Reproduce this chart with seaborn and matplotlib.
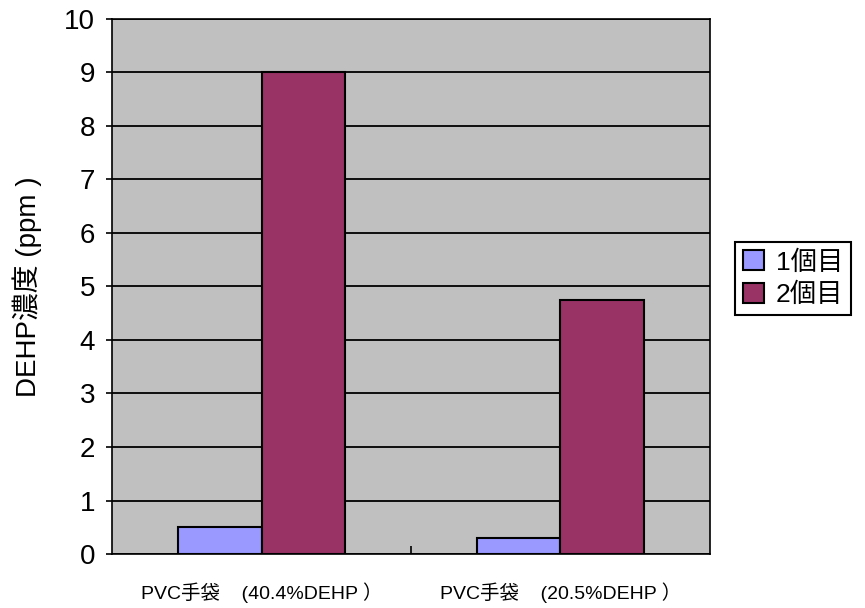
import matplotlib
matplotlib.use("Agg")
import matplotlib.pyplot as plt
import pandas as pd
import seaborn as sns
from matplotlib.ticker import FixedLocator

# data
categories = ["PVC手袋    (40.4%DEHP ）", "PVC手袋    (20.5%DEHP ）"]
series_names = ["1個目", "2個目"]
values_1 = [0.5, 0.3]
values_2 = [9.0, 4.75]
y_ticks = list(range(0, 11))

df = pd.DataFrame({
    "category": categories * 2,
    "series": [series_names[0]] * 2 + [series_names[1]] * 2,
    "value": values_1 + values_2,
})

sns.set_style("white")
plt.rcParams["font.family"] = ["Liberation Sans", "Noto Sans CJK JP", "DejaVu Sans"]
plt.rcParams["text.color"] = "black"
plt.rcParams["axes.labelcolor"] = "black"
plt.rcParams["xtick.color"] = "black"
plt.rcParams["ytick.color"] = "black"

fig = plt.figure(figsize=(8.65, 6.08), dpi=100)
ax = fig.add_axes([0.1295, 0.0888, 0.6913, 0.88])
ax.set_facecolor("#C0C0C0")

sns.barplot(data=df, x="category", y="value", hue="series",
            palette=["#9999FF", "#993366"], width=0.56,
            edgecolor="black", linewidth=1.5, saturation=1,
            ax=ax, zorder=3)

ax.set_ylim(0, 10)
ax.set_xlim(-0.5, 1.5)
ax.set_yticks(y_ticks)
ax.tick_params(axis="y", left=True, labelsize=20, length=4, width=1.2,
               direction="out", pad=8)
ax.yaxis.grid(True, color="black", linewidth=1.3, zorder=1)
ax.set_axisbelow(True)

# category ticks sit between the groups, labels centred under them
ax.tick_params(axis="x", which="major", bottom=False, labelsize=14, pad=17)
ax.xaxis.set_minor_locator(FixedLocator([0.5]))
ax.tick_params(axis="x", which="minor", bottom=True, direction="in",
               length=6, width=1.2)

ax.set_xlabel("")
ax.set_ylabel("DEHP濃度 (ppm )", fontsize=20, labelpad=16)

for s in ax.spines.values():
    s.set_color("black")
    s.set_linewidth(1.2)

ax.legend(title=None, loc="center left", bbox_to_anchor=(1.02, 0.515),
          fontsize=19, frameon=True, fancybox=False, edgecolor="black",
          handlelength=0.8, handleheight=0.8, handletextpad=0.45,
          borderpad=0.3, labelspacing=0.3, framealpha=1)
ax.get_legend().get_frame().set_linewidth(1.5)

fig.savefig("out.png", dpi=100, facecolor="white")
